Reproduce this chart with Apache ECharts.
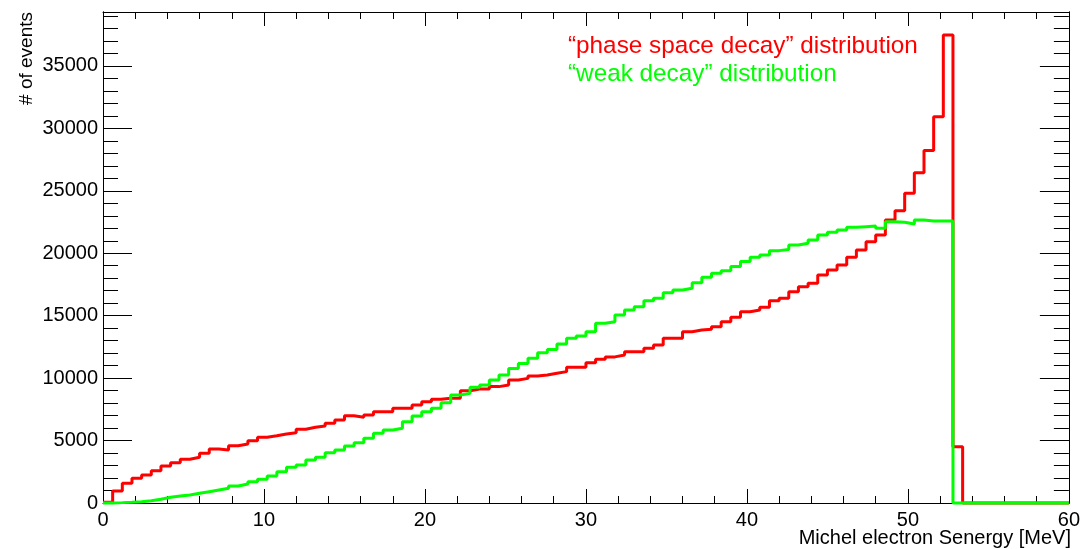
<!DOCTYPE html>
<html>
<head>
<meta charset="utf-8">
<script src="https://cdn.jsdelivr.net/npm/echarts@6/dist/echarts.min.js"></script>
<style>
  html, body { margin: 0; padding: 0; background: #fff; }
  #chart { width: 1083px; height: 549px; }
</style>
</head>
<body>
<div id="chart"></div>
<script>
// 100 bins of 0.6 MeV from 0 to 60 MeV
var binWidth = 0.6
var xTicks = [0, 10, 20, 30, 40, 50, 60]
var yTicks = [0, 5000, 10000, 15000, 20000, 25000, 30000, 35000]

// "phase space decay" distribution
var phaseSpace = [
  60, 960, 1580, 1980, 2240, 2590, 2960, 3230, 3500, 3660,
  3980, 4320, 4240, 4590, 4730, 4990, 5260, 5380, 5530, 5630,
  5900, 6060, 6170, 6380, 6650, 6990, 6860, 7050, 7310, 7310,
  7580, 7580, 7850, 8110, 8300, 8380, 8380, 8990, 9130, 9130,
  9320, 9450, 9850, 9980, 10170, 10250, 10390, 10520, 10870, 10870,
  11240, 11510, 11700, 11850, 12120, 12120, 12390, 12650, 13190, 13190,
  13720, 13860, 13910, 14120, 14520, 14870, 15320, 15460, 15670, 16200,
  16390, 16920, 17320, 17590, 18260, 18660, 19060, 19680, 20260, 20930,
  21460, 22670, 23410, 24800, 26450, 28220, 30940, 37480, 4500, 0,
  0, 0, 0, 0, 0, 0, 0, 0, 0, 0
]

// "weak decay" distribution
var weakDecay = [
  5, 30, 60, 107, 187, 294, 454, 560, 640, 774,
  908, 1041, 1175, 1362, 1522, 1709, 1896, 2160, 2510, 2860,
  3040, 3440, 3660, 4030, 4240, 4570, 4830, 5180, 5580, 5850,
  5980, 6510, 6970, 7310, 7580, 8020, 8650, 8780, 9260, 9450,
  9850, 10250, 10780, 11180, 11590, 12040, 12300, 12730, 13190, 13370,
  13720, 14390, 14520, 15060, 15460, 15720, 16200, 16390, 16840, 17060,
  17190, 17640, 18070, 18390, 18600, 18930, 19330, 19680, 19860, 20210,
  20300, 20660, 20800, 21060, 21460, 21680, 21860, 22080, 22130, 22180,
  22000, 22530, 22480, 22350, 22670, 22590, 22590, 22590, 0, 0,
  0, 0, 0, 0, 0, 0, 0, 0, 0, 0
]

var yMax = 39320
var font = 'Liberation Sans, Arial, sans-serif'

function toSteps (values) {
  let pts = []
  for (let i = 0; i < values.length; i++) {
    pts.push([+(i * binWidth).toFixed(2), values[i]])
  }
  pts.push([+(values.length * binWidth).toFixed(2), values[values.length - 1]])
  return pts
}

function yAxisDef (position, interval, len, labels) {
  return {
    type: 'value',
    position: position,
    min: 0,
    max: yMax,
    interval: interval,
    axisLine: { show: true, lineStyle: { color: '#000', width: 1 } },
    axisTick: { show: true, inside: true, length: len, lineStyle: { color: '#000', width: 1 } },
    axisLabel: {
      show: labels,
      margin: 5,
      fontSize: 20,
      fontFamily: font,
      color: '#000',
      formatter: function (v) { return yTicks.indexOf(v) >= 0 ? String(v) : '' }
    },
    splitLine: { show: false }
  }
}

function xAxisDef (position, labels) {
  return {
    type: 'value',
    position: position,
    min: xTicks[0],
    max: xTicks[xTicks.length - 1],
    interval: 10,
    axisLine: { show: true, onZero: false, lineStyle: { color: '#000', width: 1 } },
    axisTick: { show: true, inside: true, length: 14, lineStyle: { color: '#000', width: 1 } },
    minorTick: { show: true, splitNumber: 5, length: 7, lineStyle: { color: '#000', width: 1 } },
    axisLabel: { show: labels, margin: 7, fontSize: 20, fontFamily: font, color: '#000' },
    splitLine: { show: false }
  }
}

let myChart = echarts.init(document.getElementById('chart'))
myChart.setOption({
  animation: false,
  backgroundColor: '#fff',
  grid: { left: 103, right: 12, top: 12, bottom: 46 },
  xAxis: [xAxisDef('bottom', true), xAxisDef('top', false)],
  yAxis: [
    yAxisDef('left', 5000, 29, true),
    yAxisDef('left', 1000, 15, false),
    yAxisDef('right', 5000, 29, false),
    yAxisDef('right', 1000, 15, false)
  ],
  graphic: [
    {
      type: 'text', left: 568, top: 34,
      style: { text: '\u201cphase space decay\u201d distribution', fill: '#ff0000', font: '24.3px ' + font }
    },
    {
      type: 'text', left: 568, top: 62,
      style: { text: '\u201cweak decay\u201d distribution', fill: '#00ff00', font: '24.3px ' + font }
    },
    {
      type: 'text', x: 1071, y: 538,
      style: { text: 'Michel electron Senergy [MeV]', fill: '#000', font: '20px ' + font, align: 'right', verticalAlign: 'middle' }
    },
    {
      type: 'text', x: 27, y: 12, rotation: Math.PI / 2,
      style: { text: '# of events', fill: '#000', font: '19px ' + font, align: 'right', verticalAlign: 'middle' }
    }
  ],
  series: [
    {
      name: 'phase space decay',
      type: 'line',
      step: 'end',
      showSymbol: false,
      clip: false,
      z: 2,
      lineStyle: { color: '#ff0000', width: 3 },
      data: toSteps(phaseSpace)
    },
    {
      name: 'weak decay',
      type: 'line',
      step: 'end',
      showSymbol: false,
      clip: false,
      z: 3,
      lineStyle: { color: '#00ff00', width: 3 },
      data: toSteps(weakDecay)
    }
  ]
})
</script>
</body>
</html>
